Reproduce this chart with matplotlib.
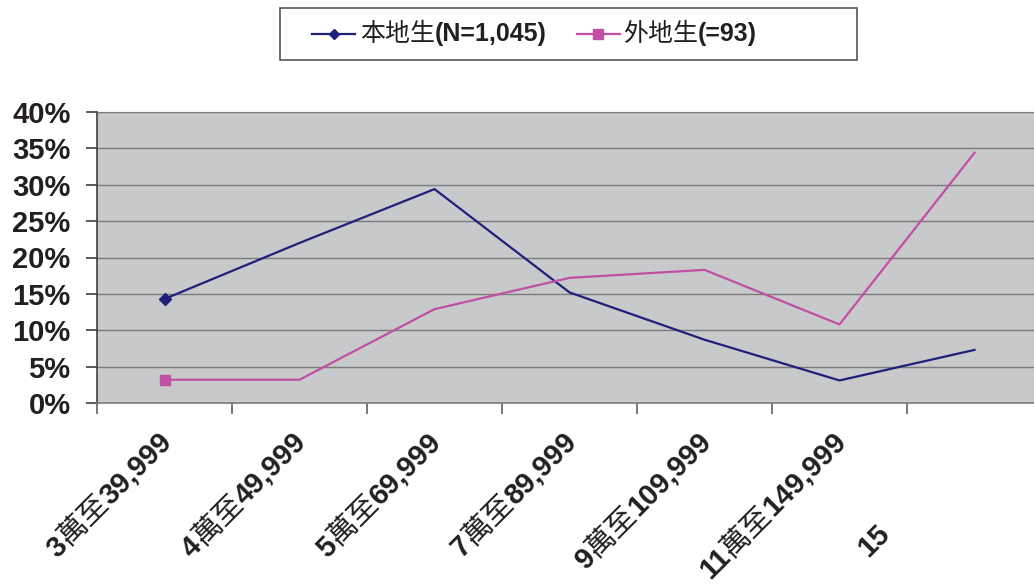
import re
import numpy as np
import matplotlib
matplotlib.use('Agg')
import matplotlib.pyplot as plt
from matplotlib import transforms as mtransforms
from matplotlib.lines import Line2D
from matplotlib.offsetbox import AnchoredOffsetbox, HPacker, TextArea, DrawingArea

# data
categories = ['3萬至39,999', '4萬至49,999', '5萬至69,999', '7萬至89,999',
              '9萬至109,999', '11萬至149,999', '15']
local_pct = [14.3, 22.0, 29.4, 15.2, 8.7, 3.1, 7.3]
outside_pct = [3.2, 3.2, 12.9, 17.2, 18.3, 10.8, 34.4]
series_names = ['本地生(N=1,045)', '外地生(=93)']
y_ticks = [0, 5, 10, 15, 20, 25, 30, 35, 40]

NAVY = '#20207A'
PINK = '#C24FA6'
TXT = '#231F20'
BG = '#C8C9CB'
GRID = '#7A7A7A'

LATIN = dict(family='Liberation Sans', weight='bold', color=TXT)
CJK = dict(family='Noto Sans CJK TC', weight='normal', color=TXT)


def runs_of(s):
    return re.findall(r'[\u3000-\u9fff]+|[^\u3000-\u9fff]+', s)


def props(run):
    return CJK if '\u3000' <= run[0] <= '\u9fff' else LATIN


fig = plt.figure(figsize=(10.34, 5.86), dpi=100)
ax = fig.add_axes([97/1034, 183/586, 945/1034, 291/586])
ax.set_facecolor(BG)

x = np.arange(len(categories))
ax.plot(x, local_pct, color=NAVY, lw=1.6, marker='D', ms=6.5, markevery=[0])
ax.plot(x, outside_pct, color=PINK, lw=1.6, marker='s', ms=7.5, markevery=[0])

ax.set_xlim(-0.5, len(categories) - 0.5)
ax.set_ylim(0, 40)
ax.set_yticks(y_ticks)
ax.set_yticklabels([f'{v}%' for v in y_ticks])
for t in ax.get_yticklabels():
    t.set_fontfamily('Liberation Sans')
    t.set_fontweight('bold')
    t.set_fontsize(21)
    t.set_color(TXT)
ax.set_xticks(np.arange(len(categories) + 1) - 0.5)
ax.set_xticklabels([])
ax.tick_params(axis='y', length=8, width=1.2, color='#404040', pad=11)
ax.tick_params(axis='x', length=8, width=1.2, color='#606060')
ax.yaxis.grid(True, color=GRID, lw=1.0)
ax.set_axisbelow(True)
ax.spines['left'].set_color('#404040')
ax.spines['left'].set_linewidth(1.2)
ax.spines['bottom'].set_color(GRID)
ax.spines['bottom'].set_linewidth(1.2)
ax.spines['top'].set_color(GRID)
ax.spines['right'].set_visible(False)

# rotated category labels, latin bold / CJK regular pieces
renderer = fig.canvas.get_renderer()
base = ax.get_xaxis_transform()
c = s = np.cos(np.deg2rad(45))
FS = 21
for i, lab in enumerate(categories):
    runs = runs_of(lab)
    widths = []
    for r in runs:
        t = fig.text(0, 0, r, fontsize=FS, **props(r))
        widths.append(t.get_window_extent(renderer).width)
        t.remove()
    shift = 130 if i == len(categories) - 1 else 0
    for r, w in zip(reversed(runs), reversed(widths)):
        tr = mtransforms.offset_copy(base, fig=fig, x=8 - shift*c, y=-40 - shift*s, units='dots')
        ax.text(i, 0, r, transform=tr, rotation=45, rotation_mode='anchor',
                ha='right', va='baseline', fontsize=FS, clip_on=False, **props(r))
        shift += w

# legend box
PX = 0.72


def spacer(wpx):
    return DrawingArea(wpx*PX, 1)


def handle(color, marker, ms):
    w, h = 43*PX, 52*PX
    da = DrawingArea(w, h)
    da.add_artist(Line2D([0, w], [h/2, h/2], color=color, lw=1.6))
    da.add_artist(Line2D([w/2], [h/2], marker=marker, ms=ms, color=color, ls='none'))
    return da


def label(text):
    return HPacker(children=[TextArea(r, textprops=dict(fontsize=18, **props(r))) for r in runs_of(text)],
                   sep=0, pad=0, align='baseline')


row = HPacker(children=[spacer(32), handle(NAVY, 'D', 5.5), spacer(5), label(series_names[0]),
                        spacer(30), handle(PINK, 's', 6.5), spacer(3), label(series_names[1]),
                        spacer(100)], sep=0, pad=0, align='center')
box = AnchoredOffsetbox(loc='upper left', child=row, pad=0, borderpad=0, frameon=True,
                        bbox_to_anchor=(280/1034, 1 - 8/586), bbox_transform=fig.transFigure)
box.patch.set_edgecolor('#555555')
box.patch.set_linewidth(1.2)
fig.add_artist(box)

fig.savefig('out.png', dpi=100)
